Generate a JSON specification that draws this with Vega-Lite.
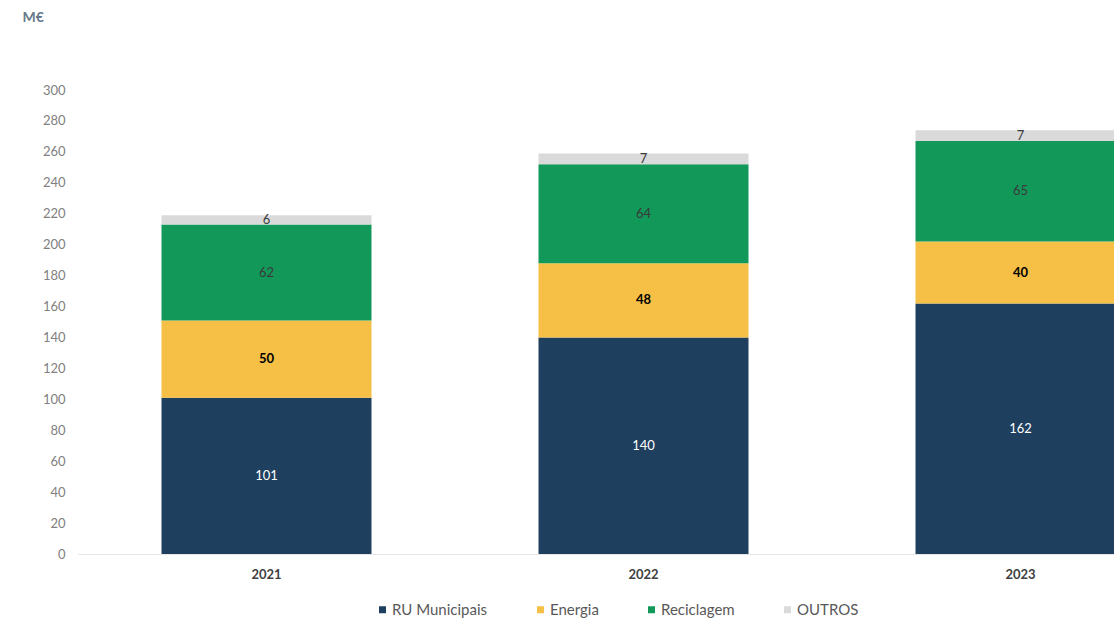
{
  "$schema": "https://vega.github.io/schema/vega-lite/v6.json",
  "width": 1036,
  "height": 464,
  "autosize": {"type": "none"},
  "padding": {"left": 78, "top": 90, "right": 0, "bottom": 66},
  "background": "white",
  "config": {
    "view": {"stroke": null},
    "font": "Lato",
    "axisY": {
      "titleAngle": 0,
      "titleX": -56,
      "titleY": -73,
      "titleAlign": "left",
      "titleBaseline": "middle",
      "titleColor": "#66788a",
      "titleFontSize": 14,
      "titleFontWeight": "bold",
      "labelOverlap": false,
      "grid": false,
      "ticks": false,
      "domain": false,
      "labelColor": "#808080",
      "labelFontSize": 13,
      "labelPadding": 13
    }
  },
  "data": {
    "values": [
      {"year": "2021", "cat": "RU Municipais", "value": 101},
      {"year": "2021", "cat": "Energia", "value": 50},
      {"year": "2021", "cat": "Reciclagem", "value": 62},
      {"year": "2021", "cat": "OUTROS", "value": 6},
      {"year": "2022", "cat": "RU Municipais", "value": 140},
      {"year": "2022", "cat": "Energia", "value": 48},
      {"year": "2022", "cat": "Reciclagem", "value": 64},
      {"year": "2022", "cat": "OUTROS", "value": 7},
      {"year": "2023", "cat": "RU Municipais", "value": 162},
      {"year": "2023", "cat": "Energia", "value": 40},
      {"year": "2023", "cat": "Reciclagem", "value": 65},
      {"year": "2023", "cat": "OUTROS", "value": 7}
    ]
  },
  "transform": [
    {"stack": "value", "groupby": ["year"], "as": ["v0", "v1"]},
    {"calculate": "(datum.v0 + datum.v1) / 2", "as": "mid"}
  ],
  "encoding": {
    "x": {
      "field": "year",
      "type": "nominal",
      "scale": {"range": [0, 1131], "paddingInner": 0.443, "paddingOuter": 0.2215},
      "axis": {
        "title": null,
        "labelAngle": 0,
        "labelFontWeight": "bold",
        "labelColor": "#404040",
        "labelFontSize": 13,
        "ticks": false,
        "domain": true,
        "domainColor": "#e6e6e6",
        "labelPadding": 14
      }
    }
  },
  "layer": [
    {
      "mark": {"type": "bar", "clip": true},
      "encoding": {
        "y": {
          "field": "v0",
          "type": "quantitative",
          "scale": {"domain": [0, 300], "nice": false},
          "axis": {
            "title": "M€",
            "values": [0, 20, 40, 60, 80, 100, 120, 140, 160, 180, 200, 220, 240, 260, 280, 300],
            "labelOverlap": false
          }
        },
        "y2": {"field": "v1"},
        "color": {
          "field": "cat",
          "type": "nominal",
          "scale": {
            "domain": ["RU Municipais", "Energia", "Reciclagem", "OUTROS"],
            "range": ["#1f3f5f", "#f6bf45", "#12995a", "#dadada"]
          },
          "legend": {
            "title": null,
            "orient": "none",
            "legendX": 297,
            "legendY": 512,
            "direction": "horizontal",
            "symbolType": "square",
            "symbolSize": 49,
            "labelFontSize": 15,
            "labelColor": "#595959",
            "columnPadding": 45,
            "labelOffset": 2
          }
        }
      }
    },
    {
      "transform": [{"filter": "datum.cat !== 'Energia'"}],
      "mark": {"type": "text", "fontSize": 13, "clip": true},
      "encoding": {
        "y": {
          "field": "mid",
          "type": "quantitative",
          "axis": {
            "title": "M€",
            "values": [0, 20, 40, 60, 80, 100, 120, 140, 160, 180, 200, 220, 240, 260, 280, 300],
            "labelOverlap": false
          }
        },
        "text": {"field": "value", "type": "quantitative"},
        "color": {
          "condition": {"test": "datum.cat === 'RU Municipais'", "value": "#ffffff"},
          "value": "#3a3a3a"
        }
      }
    },
    {
      "transform": [{"filter": "datum.cat === 'Energia'"}],
      "mark": {"type": "text", "fontSize": 13, "fontWeight": "bold", "color": "#000000", "clip": true},
      "encoding": {
        "y": {
          "field": "mid",
          "type": "quantitative",
          "axis": {
            "title": "M€",
            "values": [0, 20, 40, 60, 80, 100, 120, 140, 160, 180, 200, 220, 240, 260, 280, 300],
            "labelOverlap": false
          }
        },
        "text": {"field": "value", "type": "quantitative"}
      }
    }
  ]
}
